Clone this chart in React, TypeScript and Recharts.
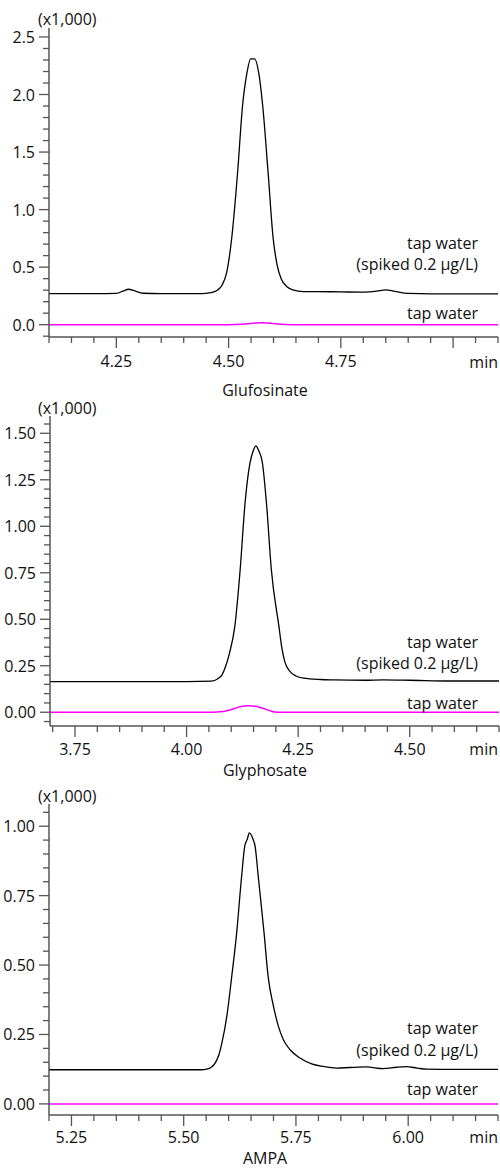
import { LineChart, Line, XAxis, YAxis } from 'recharts';

const FONT = '"Open Sans", sans-serif';
const AXIS = '#555';

// Glufosinate
const gluT = [4.1, 4.2, 4.25, 4.265, 4.277, 4.29, 4.31, 4.35, 4.44, 4.46, 4.475, 4.485, 4.4955, 4.5066, 4.52, 4.531, 4.541, 4.549, 4.558, 4.567, 4.576, 4.588, 4.599, 4.608, 4.617, 4.63, 4.645, 4.666, 4.7, 4.75, 4.8, 4.83, 4.85, 4.87, 4.9, 4.95, 5.1];
const gluSpiked = [0.27, 0.27, 0.272, 0.292, 0.308, 0.295, 0.273, 0.27, 0.27, 0.278, 0.3, 0.34, 0.45, 0.74, 1.32, 1.9, 2.19, 2.31, 2.31, 2.19, 1.9, 1.32, 0.76, 0.52, 0.4, 0.33, 0.3, 0.288, 0.287, 0.285, 0.283, 0.292, 0.303, 0.29, 0.272, 0.268, 0.268];
const gluBlankT = [4.1, 4.5, 4.53, 4.555, 4.575, 4.595, 4.615, 4.64, 5.1];
const gluBlank = [0, 0, 0.004, 0.013, 0.017, 0.012, 0.003, 0, 0];

// Glyphosate
const glyT = [3.694, 4.0, 4.056, 4.07, 4.079, 4.088, 4.096, 4.108, 4.12, 4.131, 4.142, 4.15, 4.155, 4.161, 4.17, 4.179, 4.19, 4.207, 4.213, 4.22, 4.232, 4.245, 4.262, 4.3, 4.33, 4.4, 4.44, 4.5, 4.59, 4.7];
const glySpiked = [0.165, 0.165, 0.167, 0.18, 0.2, 0.25, 0.317, 0.46, 0.765, 1.124, 1.339, 1.41, 1.432, 1.41, 1.339, 1.124, 0.765, 0.46, 0.353, 0.272, 0.218, 0.195, 0.183, 0.176, 0.174, 0.172, 0.174, 0.172, 0.168, 0.168];
const glyBlankT = [3.694, 4.06, 4.075, 4.097, 4.12, 4.138, 4.155, 4.172, 4.185, 4.198, 4.21, 4.7];
const glyBlank = [0, 0, 0.002, 0.012, 0.03, 0.035, 0.032, 0.02, 0.01, 0.001, 0, 0];

// AMPA
const ampaT = [5.2, 5.54, 5.551, 5.562, 5.57, 5.578, 5.585, 5.596, 5.607, 5.618, 5.629, 5.636, 5.642, 5.646, 5.654, 5.659, 5.666, 5.679, 5.688, 5.7, 5.711, 5.722, 5.737, 5.759, 5.785, 5.81, 5.841, 5.87, 5.907, 5.944, 5.974, 5.996, 6.02, 6.041, 6.1, 6.2];
const ampaSpiked = [0.123, 0.123, 0.125, 0.133, 0.147, 0.175, 0.219, 0.315, 0.459, 0.616, 0.82, 0.928, 0.955, 0.976, 0.955, 0.928, 0.82, 0.616, 0.459, 0.351, 0.279, 0.231, 0.195, 0.165, 0.144, 0.135, 0.129, 0.131, 0.133, 0.127, 0.132, 0.134, 0.129, 0.125, 0.124, 0.124];
const ampaBlankT = [5.2, 6.2];
const ampaBlank = [0, 0];

// ticks
const gluXTicks = [4.1, 4.15, 4.2, 4.25, 4.3, 4.35, 4.4, 4.45, 4.5, 4.55, 4.6, 4.65, 4.7, 4.75, 4.8, 4.85, 4.9, 4.95, 5.0, 5.05, 5.1];
const gluXLabels = [4.25, 4.5, 4.75];
const gluYTicks = [-0.1, 0, 0.1, 0.2, 0.3, 0.4, 0.5, 0.6, 0.7, 0.8, 0.9, 1.0, 1.1, 1.2, 1.3, 1.4, 1.5, 1.6, 1.7, 1.8, 1.9, 2.0, 2.1, 2.2, 2.3, 2.4, 2.5];
const gluYLabels = [0, 0.5, 1.0, 1.5, 2.0, 2.5];

const glyXTicks = [3.7, 3.75, 3.8, 3.85, 3.9, 3.95, 4.0, 4.05, 4.1, 4.15, 4.2, 4.25, 4.3, 4.35, 4.4, 4.45, 4.5, 4.55, 4.6, 4.65, 4.7];
const glyXLabels = [3.75, 4.0, 4.25, 4.5];
const glyYTicks = [-0.05, 0, 0.05, 0.1, 0.15, 0.2, 0.25, 0.3, 0.35, 0.4, 0.45, 0.5, 0.55, 0.6, 0.65, 0.7, 0.75, 0.8, 0.85, 0.9, 0.95, 1.0, 1.05, 1.1, 1.15, 1.2, 1.25, 1.3, 1.35, 1.4, 1.45, 1.5, 1.55];
const glyYLabels = [0, 0.25, 0.5, 0.75, 1.0, 1.25, 1.5];

const ampaXTicks = [5.2, 5.25, 5.3, 5.35, 5.4, 5.45, 5.5, 5.55, 5.6, 5.65, 5.7, 5.75, 5.8, 5.85, 5.9, 5.95, 6.0, 6.05, 6.1, 6.15, 6.2];
const ampaXLabels = [5.25, 5.5, 5.75, 6.0];
const ampaYTicks = [0, 0.05, 0.1, 0.15, 0.2, 0.25, 0.3, 0.35, 0.4, 0.45, 0.5, 0.55, 0.6, 0.65, 0.7, 0.75, 0.8, 0.85, 0.9, 0.95, 1.0, 1.05];
const ampaYLabels = [0, 0.25, 0.5, 0.75, 1.0];

const zip = (t: number[], v: number[]) => t.map((x, i) => ({ t: x, v: v[i] }));
const has = (arr: number[], v: number) => arr.some((a) => Math.abs(a - v) < 1e-6);

const XTick = ({ x, y, payload, labels, labelDy }: any) => {
  const v = payload.value;
  const major = Math.abs(v * 4 - Math.round(v * 4)) < 1e-6;
  return (
    <g>
      <line x1={x} x2={x} y1={y} y2={y + (major ? 11 : 6)} stroke={AXIS} strokeWidth={1.3} />
      {has(labels, v) && (
        <text x={x} y={y + labelDy} textAnchor="middle" dominantBaseline="central" fontFamily={FONT} fontSize={16} fill="#111">
          {v.toFixed(2)}
        </text>
      )}
    </g>
  );
};

const YTick = ({ x, y, payload, labels, digits }: any) => {
  const v = payload.value;
  const major = has(labels, v);
  return (
    <g>
      <line x1={x - (major ? 10 : 6)} x2={x} y1={y} y2={y} stroke={AXIS} strokeWidth={1.3} />
      {major && (
        <text x={x - 14} y={y} textAnchor="end" dominantBaseline="central" fontFamily={FONT} fontSize={16} fill="#111">
          {v.toFixed(digits)}
        </text>
      )}
    </g>
  );
};

function Panel({ top, height, marginTop, yWidth, right, labelDy, xDomain, xTicks, xLabels, yDomain, yTicks, yLabels, digits, spiked, blank }: any) {
  return (
    <div style={{ position: 'absolute', top, left: 0 }}>
      <LineChart width={500} height={height} margin={{ top: marginTop, right, bottom: 0, left: 0 }}>
        <XAxis
          type="number"
          dataKey="t"
          domain={xDomain}
          allowDataOverflow
          ticks={xTicks}
          interval={0}
          tickSize={0}
          tickMargin={0}
          height={40}
          tickLine={false}
          axisLine={{ stroke: AXIS, strokeWidth: 1.5 }}
          tick={(p: any) => <XTick {...p} labels={xLabels} labelDy={labelDy} />}
        />
        <XAxis xAxisId="top" orientation="top" type="number" domain={xDomain} allowDataOverflow height={0} tick={false} tickLine={false} axisLine={{ stroke: AXIS, strokeWidth: 1.5 }} />
        <YAxis
          type="number"
          domain={yDomain}
          allowDataOverflow
          ticks={yTicks}
          interval={0}
          tickSize={0}
          tickMargin={0}
          width={yWidth}
          tickLine={false}
          axisLine={{ stroke: AXIS, strokeWidth: 1.5 }}
          tick={(p: any) => <YTick {...p} labels={yLabels} digits={digits} />}
        />
        <YAxis yAxisId="right" orientation="right" type="number" domain={yDomain} allowDataOverflow width={0} tick={false} tickLine={false} axisLine={{ stroke: AXIS, strokeWidth: 1.5 }} />
        <Line data={blank} dataKey="v" type="monotone" stroke="#ff00ff" strokeWidth={1.5} dot={false} isAnimationActive={false} />
        <Line data={spiked} dataKey="v" type="monotone" stroke="#000" strokeWidth={1.3} dot={false} isAnimationActive={false} />
      </LineChart>
    </div>
  );
}

const T = (props: any) => <text fontFamily={FONT} fontSize={16} fill="#111" dominantBaseline="central" {...props} />;

export default function App() {
  return (
    <div style={{ position: 'absolute', top: 0, left: 0, width: 500, height: 1171, background: '#fff' }}>
      <Panel
        top={0} height={377} marginTop={28} yWidth={49} right={2} labelDy={24}
        xDomain={[4.1, 5.1]} xTicks={gluXTicks} xLabels={gluXLabels}
        yDomain={[-0.107, 2.578]} yTicks={gluYTicks} yLabels={gluYLabels} digits={1}
        spiked={zip(gluT, gluSpiked)} blank={zip(gluBlankT, gluBlank)}
      />
      <Panel
        top={380} height={386} marginTop={36} yWidth={50} right={1} labelDy={23}
        xDomain={[3.694, 4.7]} xTicks={glyXTicks} xLabels={glyXLabels}
        yDomain={[-0.074, 1.593]} yTicks={glyYTicks} yLabels={glyYLabels} digits={2}
        spiked={zip(glyT, glySpiked)} blank={zip(glyBlankT, glyBlank)}
      />
      <Panel
        top={760} height={395} marginTop={44} yWidth={49} right={2} labelDy={22}
        xDomain={[5.2, 6.2]} xTicks={ampaXTicks} xLabels={ampaXLabels}
        yDomain={[-0.04, 1.08]} yTicks={ampaYTicks} yLabels={ampaYLabels} digits={2}
        spiked={zip(ampaT, ampaSpiked)} blank={zip(ampaBlankT, ampaBlank)}
      />
      <svg width={500} height={1171} style={{ position: 'absolute', top: 0, left: 0, pointerEvents: 'none' }}>
        <T x={38} y={19}>(x1,000)</T>
        <T x={478} y={243} textAnchor="end">tap water</T>
        <T x={478} y={264} textAnchor="end">(spiked 0.2 µg/L)</T>
        <T x={478} y={313} textAnchor="end">tap water</T>
        <T x={498} y={362} textAnchor="end">min</T>
        <T x={265} y={390} textAnchor="middle">Glufosinate</T>

        <T x={38} y={408}>(x1,000)</T>
        <T x={478} y={642} textAnchor="end">tap water</T>
        <T x={478} y={663} textAnchor="end">(spiked 0.2 µg/L)</T>
        <T x={478} y={703} textAnchor="end">tap water</T>
        <T x={498} y={749} textAnchor="end">min</T>
        <T x={265} y={770} textAnchor="middle">Glyphosate</T>

        <T x={38} y={796}>(x1,000)</T>
        <T x={478} y={1028} textAnchor="end">tap water</T>
        <T x={478} y={1050} textAnchor="end">(spiked 0.2 µg/L)</T>
        <T x={478} y={1089} textAnchor="end">tap water</T>
        <T x={498} y={1137} textAnchor="end">min</T>
        <T x={265} y={1158} textAnchor="middle">AMPA</T>
      </svg>
    </div>
  );
}
